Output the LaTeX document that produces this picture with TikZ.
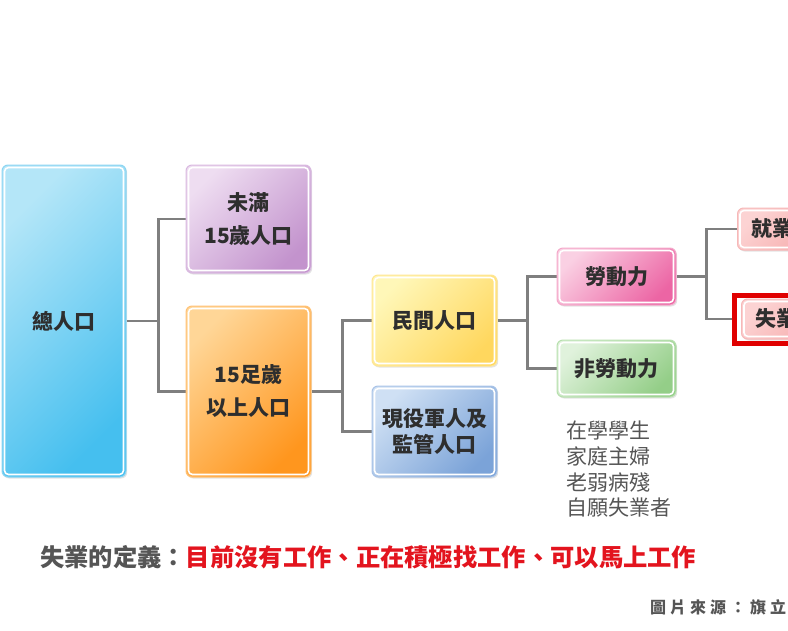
\documentclass[tikz,border=0pt]{standalone}
\usepackage{fontspec}
\setmainfont{Noto Sans CJK TC}
\usetikzlibrary{shadows,backgrounds}
\definecolor{txt}{HTML}{2E2E2E}
\definecolor{conncol}{HTML}{7F7F7F}
\definecolor{listcol}{HTML}{555555}
\definecolor{defred}{HTML}{E3141E}
\definecolor{framered}{HTML}{E00000}
\definecolor{cyanA}{HTML}{B4E6F8}\definecolor{cyanB}{HTML}{45BFEF}\definecolor{cyanE}{HTML}{8DD5F2}
\definecolor{purA}{HTML}{EEDDF1}\definecolor{purB}{HTML}{C393CD}\definecolor{purE}{HTML}{D9B9E0}
\definecolor{oraA}{HTML}{FFD697}\definecolor{oraB}{HTML}{FF961E}\definecolor{oraE}{HTML}{FFC277}
\definecolor{yelA}{HTML}{FFF7B8}\definecolor{yelB}{HTML}{FFD75E}\definecolor{yelE}{HTML}{FFE693}
\definecolor{bluA}{HTML}{CFE0F4}\definecolor{bluB}{HTML}{7BA3D8}\definecolor{bluE}{HTML}{A9C3E7}
\definecolor{pnkA}{HTML}{FAD0E3}\definecolor{pnkB}{HTML}{EC65A4}\definecolor{pnkE}{HTML}{F4A9CA}
\definecolor{grnA}{HTML}{E0F2DC}\definecolor{grnB}{HTML}{94CE88}\definecolor{grnE}{HTML}{B7E0AE}
\definecolor{rosA}{HTML}{FCD3D3}\definecolor{rosB}{HTML}{F4A0A0}\definecolor{rosE}{HTML}{F6B8B8}
\tikzset{
  gbox/.style n args={3}{rounded corners=6pt, draw=#3, line width=1pt,
    top color=#1, bottom color=#2, shading angle=45,
    drop shadow={shadow xshift=1.2pt, shadow yshift=-1.5pt, opacity=0.22},
    inner sep=0pt, align=center, text=txt,
    font=\fontsize{21}{33}\selectfont\bfseries},
  conn/.style={draw=conncol, line width=2.4pt},
  inner/.style={draw=white, line width=1.6pt, rounded corners=4pt}
}
\begin{document}
\begin{tikzpicture}[x=1pt,y=-1pt]
\useasboundingbox (0,0) rectangle (788,630);
\clip (0,0) rectangle (788,630);
% boxes
\node[gbox={cyanA}{cyanB}{cyanE}, minimum width=124pt, minimum height=312pt] (total) at (64,321) {總人口};
\node[gbox={purA}{purB}{purE}, minimum width=125pt, minimum height=108pt] (young) at (248.5,219) {未滿\\15歲人口};
\node[gbox={oraA}{oraB}{oraE}, minimum width=125pt, minimum height=171pt] (adult) at (248.5,391.5) {15足歲\\以上人口};
\node[gbox={yelA}{yelB}{yelE}, minimum width=125pt, minimum height=91pt] (civil) at (434.5,320.5) {民間人口};
\node[gbox={bluA}{bluB}{bluE}, minimum width=125pt, minimum height=91pt,
  font=\fontsize{21}{26}\selectfont\bfseries] (army) at (434.5,431.5) {現役軍人及\\監管人口};
\node[gbox={pnkA}{pnkB}{pnkE}, minimum width=119pt, minimum height=57pt] (labor) at (616.5,276.5) {勞動力};
\node[gbox={grnA}{grnB}{grnE}, minimum width=119pt, minimum height=57pt] (nonlabor) at (616.5,368.5) {非勞動力};
\node[gbox={rosA}{rosB}{rosE}, minimum height=42pt, text width=97pt, inner xsep=14pt, align=left, anchor=west] (emp) at (737,229) {就業};
\node[gbox={rosA}{rosB}{rosE}, minimum height=40pt, text width=97pt, inner xsep=14pt, align=left, anchor=west] (unemp) at (741,319) {失業};
\foreach \n in {total,young,adult,civil,army,labor,nonlabor,emp,unemp}{
  \draw[inner] ([xshift=3pt,yshift=-3pt]\n.north west) rectangle ([xshift=-3pt,yshift=3pt]\n.south east);
}
\draw[framered, line width=5pt] ([xshift=-6.5pt,yshift=3.5pt]unemp.north west) rectangle ([xshift=6pt,yshift=-3.5pt]unemp.south east);
\coordinate (uframe) at ([xshift=-9pt]unemp.west);
% connectors
\begin{scope}[on background layer]
\draw[conn] (total.east) -- +(32,0) coordinate (j1);
\draw[conn] (young.west) -| (j1) |- (adult.west);
\draw[conn] (adult.east) -- +(31,0) coordinate (j2);
\draw[conn] (civil.west) -| (j2) |- (army.west);
\draw[conn] (civil.east) -- +(30,0) coordinate (j3);
\draw[conn] (labor.west) -| (j3) |- (nonlabor.west);
\draw[conn] (labor.east) -- +(30,0) coordinate (j4);
\draw[conn] (emp.west) -| (j4) |- (uframe);
\end{scope}
% list
\node[anchor=north west, align=left, inner sep=0pt, text=listcol,
  font=\fontsize{21}{25.7}\selectfont] (nonlist) at (566,421) {在學學生\\家庭主婦\\老弱病殘\\自願失業者};
% definition
\node[anchor=west, inner sep=0pt, font=\fontsize{24.3}{28}\selectfont\bfseries] (defn) at (40,557)
  {\textcolor{listcol}{失業的定義：}\textcolor{defred}{目前沒有工作、正在積極找工作、可以馬上工作}};
\node[anchor=west, inner sep=0pt, text=listcol, font=\fontsize{16}{20}\selectfont\bfseries] (src) at (650,607)
  {圖\hspace{4pt}片\hspace{4pt}來\hspace{4pt}源\hspace{4pt}：\hspace{4pt}旗\hspace{4pt}立};
\end{tikzpicture}
\end{document}
